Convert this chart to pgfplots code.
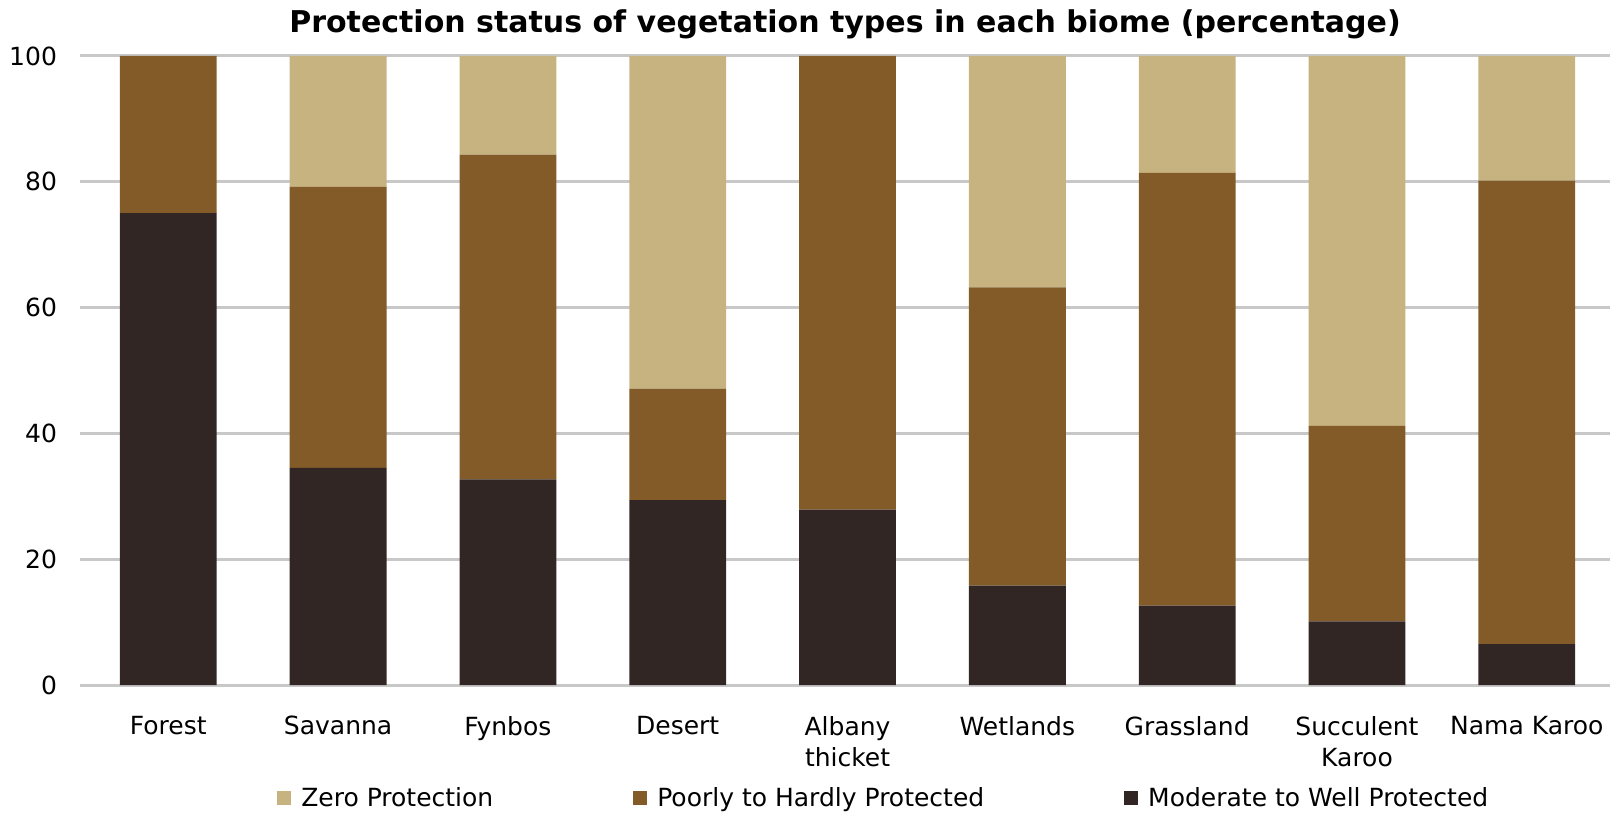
\documentclass[border=0pt]{standalone}
\usepackage{pgfplots}
\pgfplotsset{compat=1.18}
\usepackage{fontspec}
\setmainfont{DejaVu Sans}
\definecolor{zeroc}{HTML}{C7B37F}
\definecolor{poorc}{HTML}{825B28}
\definecolor{modc}{HTML}{322625}
\definecolor{gridc}{HTML}{C8C8C8}
\begin{document}
\begin{tikzpicture}
\useasboundingbox (-40pt,-64pt) rectangle (765pt,342.5pt);
\begin{axis}[
    at={(0,0)}, anchor=south west,
    scale only axis, width=765pt, height=314.5pt,
    ybar stacked, bar width=0.57,
    xmin=-0.52, xmax=8.49, ymin=0, ymax=100,
    xtick={0,...,8},
    xticklabels={Forest,Savanna,Fynbos,Desert,Albany\\thicket,Wetlands,Grassland,Succulent\\Karoo,Nama Karoo},
    ytick={0,20,...,100},
    major tick length=0pt,
    axis line style={draw=none},
    ymajorgrids, grid style={gridc, line width=1.5pt},
    /pgf/number format/assume math mode=true,
    tick label style={font=\fontsize{12.5}{15.5}\selectfont},
    xticklabel style={align=center, anchor=north, yshift=-12pt},
    yticklabel style={anchor=east, xshift=-8pt},
    title={Protection status of vegetation types in each biome (percentage)},
    title style={font=\fontsize{15}{18}\selectfont\bfseries, at={(0.5,1)}, anchor=center, yshift=10pt},
    legend columns=3, reverse legend,
    legend style={draw=none, at={(0.526,0)}, anchor=center, yshift=-56.5pt,
        font=\fontsize{12.5}{15}\selectfont,
        /tikz/every odd column/.append style={column sep=3pt},
        /tikz/every even column/.append style={column sep=68pt}},
    legend image code/.code={\fill[#1] (0pt,-3.5pt) rectangle (7pt,3.5pt);},
]
\addplot[fill=modc, draw=none] coordinates {(0,75) (1,34.5) (2,32.7) (3,29.4) (4,27.9) (5,15.8) (6,12.6) (7,10.1) (8,6.5)};
\addplot[fill=poorc, draw=none] coordinates {(0,25) (1,44.7) (2,51.6) (3,17.7) (4,72.1) (5,47.4) (6,68.8) (7,31.1) (8,73.7)};
\addplot[fill=zeroc, draw=none] coordinates {(0,0) (1,20.8) (2,15.7) (3,52.9) (4,0) (5,36.8) (6,18.6) (7,58.8) (8,19.8)};
\legend{Moderate to Well Protected, Poorly to Hardly Protected, Zero Protection}
\end{axis}
\end{tikzpicture}
\end{document}
